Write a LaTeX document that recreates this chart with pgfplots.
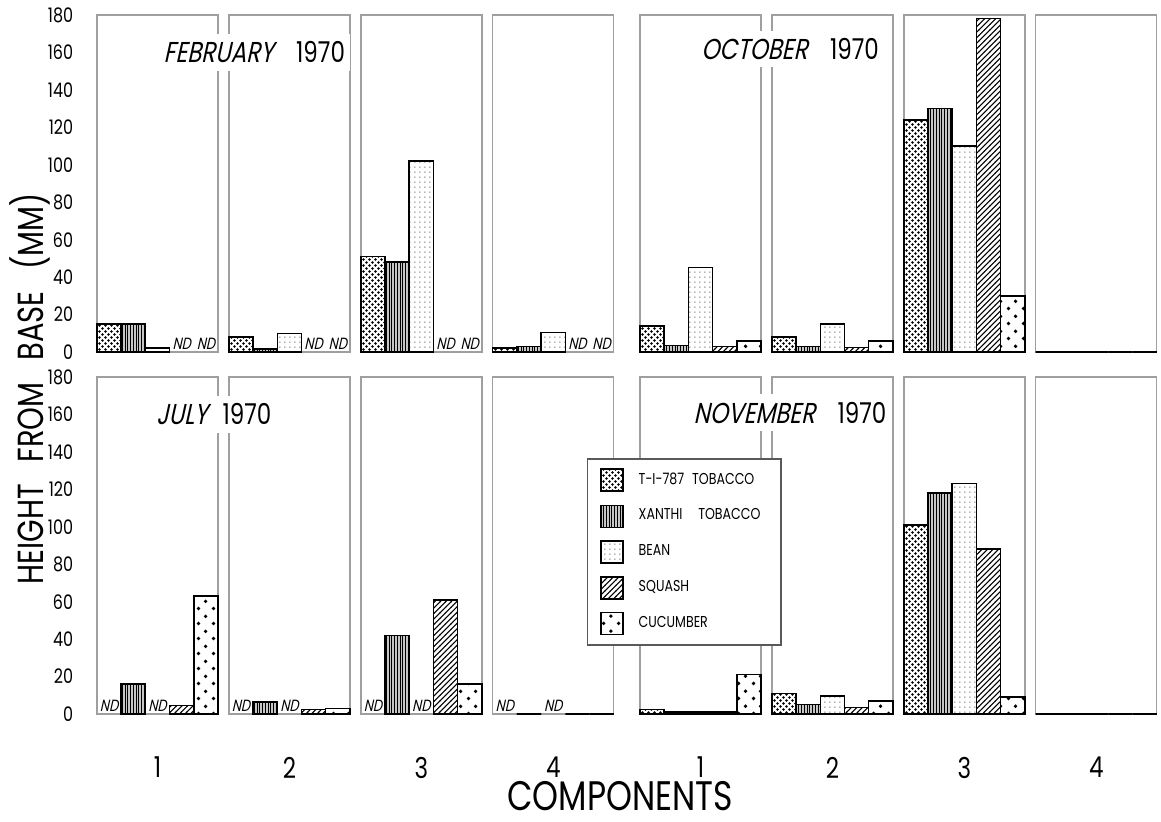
\documentclass[border=0pt]{standalone}
\usepackage{fontspec}
\setmainfont{Poppins}[FakeStretch=0.8]
\newfontfamily\slfont{Poppins}[FakeStretch=0.8,FakeSlant=0.22]
\usepackage{pgfplots}
\pgfplotsset{compat=1.18}
\usepackage{pgfplotstable}
\usetikzlibrary{patterns}

% ---------- fill patterns ----------
\pgfdeclarepatternformonly{tidots}{\pgfqpoint{0pt}{0pt}}{\pgfqpoint{2.4pt}{2.4pt}}{\pgfqpoint{2.4pt}{2.4pt}}{%
  \pgfpathcircle{\pgfqpoint{0.6pt}{0.6pt}}{0.52pt}%
  \pgfpathcircle{\pgfqpoint{1.8pt}{1.8pt}}{0.52pt}%
  \pgfusepath{fill}}
\pgfdeclarepatternformonly{xalines}{\pgfqpoint{0pt}{-0.1pt}}{\pgfqpoint{1.1pt}{1.3pt}}{\pgfqpoint{1.1pt}{1.2pt}}{%
  \pgfsetlinewidth{0.45pt}%
  \pgfpathmoveto{\pgfqpoint{0.55pt}{-0.1pt}}\pgfpathlineto{\pgfqpoint{0.55pt}{1.3pt}}%
  \pgfusepath{stroke}}
\pgfdeclarepatternformonly{beandots}{\pgfqpoint{0pt}{0pt}}{\pgfqpoint{1.8pt}{1.8pt}}{\pgfqpoint{1.8pt}{1.8pt}}{%
  \pgfpathrectangle{\pgfqpoint{0.6pt}{0.6pt}}{\pgfqpoint{0.5pt}{0.5pt}}%
  \pgfusepath{fill}}
\pgfdeclarepatternformonly{sqlines}{\pgfqpoint{-0.5pt}{-0.5pt}}{\pgfqpoint{2.7pt}{2.7pt}}{\pgfqpoint{2.2pt}{2.2pt}}{%
  \pgfsetlinewidth{0.42pt}%
  \pgfpathmoveto{\pgfqpoint{-0.1pt}{-0.1pt}}\pgfpathlineto{\pgfqpoint{2.3pt}{2.3pt}}%
  \pgfusepath{stroke}}
\pgfdeclarepatternformonly{cudots}{\pgfqpoint{0pt}{0pt}}{\pgfqpoint{6pt}{6pt}}{\pgfqpoint{6pt}{6pt}}{%
  \pgfpathcircle{\pgfqpoint{1.5pt}{1.5pt}}{0.8pt}%
  \pgfpathcircle{\pgfqpoint{4.5pt}{4.5pt}}{0.8pt}%
  \pgfusepath{fill}}

% ---------- data (k = component-1; nan = ND) ----------
\pgfplotstableread{
k ti xa be sq cu
0 15 15 2 nan nan
1 8 1.5 10 nan nan
2 51 48 102 nan nan
3 2 3 10.5 nan nan
}\febdata
\pgfplotstableread{
k ti xa be sq cu
0 14 3.5 45 3 6
1 8 3 15 2.5 6
2 124 130 110 178 30
3 0 0 0 0 0
}\octdata
\pgfplotstableread{
k ti xa be sq cu
0 nan 16 nan 4.5 63
1 nan 6.5 nan 2.5 3
2 nan 42 nan 61 16
3 nan 0 nan 0 0
}\juldata
\pgfplotstableread{
k ti xa be sq cu
0 2.5 1 1 1 21
1 11 5 9.5 3.5 7
2 101 118 123 88 9
3 0 0 0 0 0
}\novdata

\tikzset{
  frame/.style={draw=gray!75, line width=0.55pt},
  nd/.style={anchor=south, inner sep=0.8pt, font=\slfont\fontsize{6.5}{7}\selectfont},
  ttl/.style={fill=white, inner xsep=2pt, inner ysep=3pt, font=\fontsize{11.5}{13}\selectfont},
}
\pgfplotsset{
  panelaxis/.style={
    anchor=south west, scale only axis, width=206.7pt, height=134.8pt,
    xmin=0.5, xmax=21.85, ymin=0, ymax=180,
    axis line style={draw=none}, major tick length=0pt, tick style={draw=none},
    xtick=\empty, ytick=\empty, clip=false,
    /pgf/number format/assume math mode=true,
    ticklabel style={font=\fontsize{8}{9}\selectfont},
  },
  leftaxis/.style={ytick={0,20,...,180}, yticklabel style={xshift=-6pt}},
  bottomaxis/.style={xtick={3,8.45,13.9,19.35}, xticklabels={1,2,3,4},
    xticklabel style={font=\fontsize{11.5}{12}\selectfont, inner sep=0pt,
      text depth=0pt, anchor=north, yshift=-17pt}},
  bar/.style={ybar, bar width=1, bar shift=0pt, draw=black, line width=0.6pt,
    legend image code/.code={\draw[##1] (0pt,-4.4pt) rectangle (8.8pt,4.4pt);}},
}

\newcommand\frames{%
  \draw[frame] (axis cs:0.5,0) rectangle (axis cs:5.5,180);
  \draw[frame] (axis cs:5.95,0) rectangle (axis cs:10.95,180);
  \draw[frame] (axis cs:11.4,0) rectangle (axis cs:16.4,180);
  \draw[frame] (axis cs:16.85,0) rectangle (axis cs:21.85,180);
}
\newcommand\bars[1]{%
  \addplot[bar, pattern=tidots] table[x expr=\thisrow{k}*5.45+1, y=ti]{#1};
  \addplot[bar, fill=gray!45, postaction={pattern=xalines}] table[x expr=\thisrow{k}*5.45+2, y=xa]{#1};
  \addplot[bar, pattern=beandots, pattern color=black!70] table[x expr=\thisrow{k}*5.45+3, y=be]{#1};
  \addplot[bar, pattern=sqlines] table[x expr=\thisrow{k}*5.45+4, y=sq]{#1};
  \addplot[bar, pattern=cudots] table[x expr=\thisrow{k}*5.45+5, y=cu]{#1};
}

\begin{document}
\begin{tikzpicture}
\useasboundingbox (0,0) rectangle (464.4pt,-328.8pt);

% February
\begin{axis}[panelaxis, leftaxis, at={(38.8pt,-140.8pt)}]
  \frames
  \bars{\febdata}
  \node[nd] at (axis cs:4,0) {ND};  \node[nd] at (axis cs:5,0) {ND};
  \node[nd] at (axis cs:9.45,0) {ND}; \node[nd] at (axis cs:10.45,0) {ND};
  \node[nd] at (axis cs:14.9,0) {ND}; \node[nd] at (axis cs:15.9,0) {ND};
  \node[nd] at (axis cs:20.35,0) {ND}; \node[nd] at (axis cs:21.35,0) {ND};
  \node[ttl] at (axis cs:7.0,160) {{\slfont FEBRUARY}\hspace{9pt}1970};
\end{axis}

% October
\begin{axis}[panelaxis, at={(256pt,-140.8pt)}]
  \frames
  \bars{\octdata}
  \node[ttl] at (axis cs:6.7,162) {{\slfont OCTOBER}\hspace{9pt}1970};
\end{axis}

% July
\begin{axis}[panelaxis, leftaxis, bottomaxis, at={(38.8pt,-285.6pt)}]
  \frames
  \bars{\juldata}
  \node[nd] at (axis cs:1,0) {ND};  \node[nd] at (axis cs:3,0) {ND};
  \node[nd] at (axis cs:6.45,0) {ND}; \node[nd] at (axis cs:8.45,0) {ND};
  \node[nd] at (axis cs:11.9,0) {ND}; \node[nd] at (axis cs:13.9,0) {ND};
  \node[nd] at (axis cs:17.35,0) {ND}; \node[nd] at (axis cs:19.35,0) {ND};
  \node[ttl] at (axis cs:5.33,160) {{\slfont JULY}\hspace{6pt}1970};
\end{axis}

% November
\begin{axis}[panelaxis, bottomaxis, at={(256pt,-285.6pt)},
  legend cell align=left,
  legend style={at={(-0.1026,0.7596)}, anchor=north west, draw=gray!70!black,
    line width=0.6pt, fill=white, inner xsep=5pt, inner ysep=3.5pt, row sep=4.4pt,
    font=\fontsize{6.3}{7}\selectfont,
    /tikz/every odd column/.append style={column sep=4pt}}]
  \frames
  \bars{\novdata}
  \node[ttl] at (axis cs:6.7,161) {{\slfont NOVEMBER}\hspace{9pt}1970};
  \legend{\makebox[50pt][l]{T-I-787\enspace TOBACCO}, XANTHI\quad TOBACCO, BEAN, SQUASH, CUCUMBER}
\end{axis}

% axis titles
\node[rotate=90, font=\fontsize{14.5}{16}\selectfont] at (12pt,-155.6pt)
  {HEIGHT\hspace{0.6em}FROM\hspace{0.6em}BASE\hspace{0.6em}(MM)};
\node[font=\fontsize{16.5}{18}\selectfont, inner sep=0pt, text depth=0pt, anchor=base]
  at (248pt,-324.4pt) {COMPONENTS};
\end{tikzpicture}
\end{document}
